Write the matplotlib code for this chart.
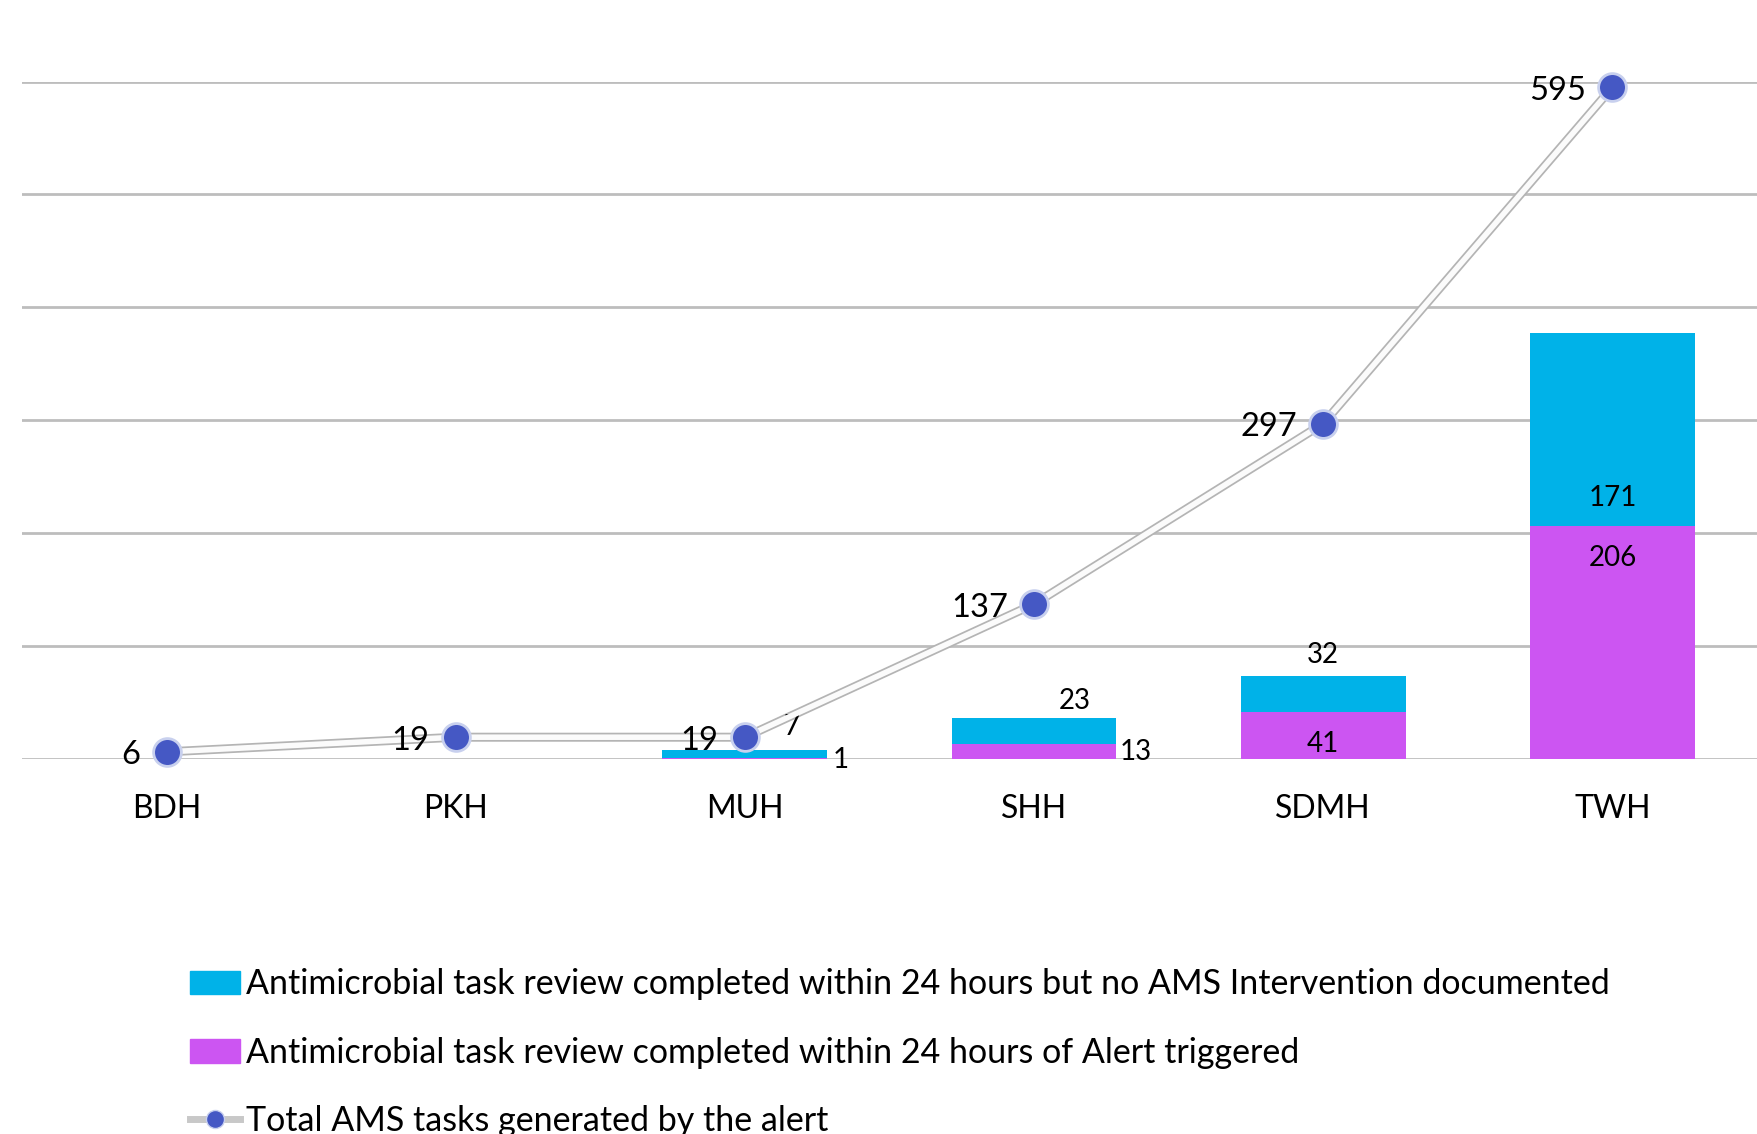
import matplotlib.pyplot as plt
import numpy as np
from matplotlib.patches import Patch
from matplotlib.lines import Line2D

plt.rcParams['font.family'] = ['Lato', 'DejaVu Sans']

hospitals = ['BDH', 'PKH', 'MUH', 'SHH', 'SDMH', 'TWH']
# bottom segment: review completed within 24 h of alert triggered
within_24h = [0, 0, 1, 13, 41, 206]
# top segment: review completed within 24 h but no AMS intervention documented
no_intervention = [0, 0, 7, 23, 32, 171]
# total AMS tasks generated by the alert
total_tasks = [6, 19, 19, 137, 297, 595]

lbl_cyan = 'Antimicrobial task review completed within 24 hours but no AMS Intervention documented'
lbl_mag = 'Antimicrobial task review completed within 24 hours of Alert triggered'
lbl_line = 'Total AMS tasks generated by the alert'

cyan = '#00b2e8'
magenta = '#cc55f2'
dot = '#4558c4'

fig = plt.figure(figsize=(17.57, 11.34), dpi=100)
ax = fig.add_axes([0.0125, 0.331, 0.9875, 0.597])

x = np.arange(len(hospitals))
w = 0.57
ax.bar(x, within_24h, w, color=magenta, zorder=2)
ax.bar(x, no_intervention, w, bottom=within_24h, color=cyan, zorder=2)

# double-stroke line like the Excel look
ax.plot(x, total_tasks, color='#b4b4b4', lw=6.5, zorder=3, solid_capstyle='round')
ax.plot(x, total_tasks, color='#fbfbfb', lw=4, zorder=3.1, solid_capstyle='round')
ax.scatter(x, total_tasks, s=400, color=dot, edgecolor='#c8d0ee', linewidth=2,
           zorder=4, clip_on=False)

ax.set_xlim(-0.5, 5.5)
ax.set_ylim(0, 600)
ax.set_yticks(np.arange(0, 601, 100))
ax.yaxis.grid(True, color='#bdbdbd', lw=2)
ax.set_axisbelow(True)
ax.tick_params(axis='y', left=False, labelleft=False)
ax.tick_params(axis='x', bottom=False, labelsize=23, pad=22)
ax.set_xticks(x)
ax.set_xticklabels(hospitals)
for s in ax.spines.values():
    s.set_visible(False)

# line labels, left of each point
for i, v in enumerate(total_tasks):
    ax.annotate(str(v), (x[i], v), xytext=(-19, -2.5), textcoords='offset points',
                ha='right', va='center', fontsize=23.5, zorder=5)

# bar segment labels
fs = 20
ax.text(x[2] + 0.16, within_24h[2] + no_intervention[2] + 20, str(no_intervention[2]),
        fontsize=fs, ha='center', va='center')
ax.text(x[2] + w / 2 + 0.02, -1, str(within_24h[2]), fontsize=fs, ha='left', va='center')
ax.text(x[3] + 0.14, within_24h[3] + no_intervention[3] + 15, str(no_intervention[3]),
        fontsize=fs, ha='center', va='center')
ax.text(x[3] + w / 2 + 0.01, 6, str(within_24h[3]), fontsize=fs, ha='left', va='center')
ax.text(x[4], within_24h[4] + no_intervention[4] + 19, str(no_intervention[4]),
        fontsize=fs, ha='center', va='center')
ax.text(x[4], 13, str(within_24h[4]), fontsize=fs, ha='center', va='center')
ax.text(x[5], within_24h[5] + 25, str(no_intervention[5]), fontsize=fs,
        ha='center', va='center')
ax.text(x[5], within_24h[5] - 28, str(within_24h[5]), fontsize=fs,
        ha='center', va='center')

h_line = Line2D([], [], color='#c8c8c8', lw=5, marker='o', markersize=13,
                markerfacecolor=dot, markeredgecolor='#c8d0ee')
handles = [Patch(color=cyan), Patch(color=magenta), h_line]
fig.legend(handles, [lbl_cyan, lbl_mag, lbl_line], loc='upper left',
           bbox_to_anchor=(0.1005, 0.158), frameon=False, fontsize=24.5,
           labelspacing=1.07, handlelength=1.45, handletextpad=0.2,
           borderaxespad=0)

fig.savefig('out.png', dpi=100)
